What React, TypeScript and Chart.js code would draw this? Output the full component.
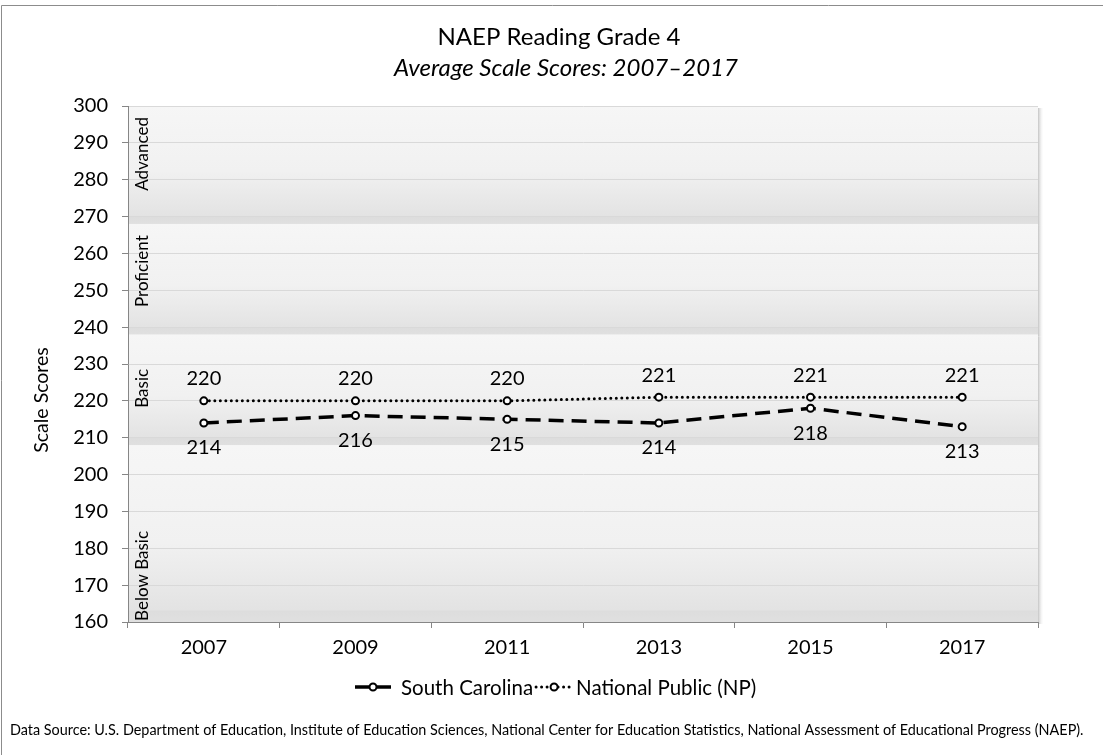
import React, { useEffect, useRef } from 'react';
import { Chart, registerables } from 'chart.js';

Chart.register(...registerables);

const years = ['2007', '2009', '2011', '2013', '2015', '2017'];
const southCarolina = [214, 216, 215, 214, 218, 213];
const nationalPublic = [220, 220, 220, 221, 221, 221];
const yTicks = [160, 170, 180, 190, 200, 210, 220, 230, 240, 250, 260, 270, 280, 290, 300];
const bandNames = ['Below Basic', 'Basic', 'Proficient', 'Advanced'];
const bandCutoffs = [160, 208, 238, 268, 300];
const titleText = 'NAEP Reading Grade 4';
const subtitleText = 'Average Scale Scores: 2007\u20132017';
const yAxisTitle = 'Scale Scores';
const sourceText =
  'Data Source: U.S. Department of Education, Institute of Education Sciences, National Center for Education Statistics, National Assessment of Educational Progress (NAEP).';

const FONT = 'Lato, "Noto Sans", sans-serif';
const bandLabelCenters = [172.5, 223.4, 255.2, 287.0];

const decorPlugin = {
  id: 'decor',
  beforeDraw(chart: any) {
    const { ctx, chartArea, scales } = chart;
    const y = scales.y;
    ctx.save();
    ctx.strokeStyle = '#8c8c8c';
    ctx.lineWidth = 1;
    ctx.beginPath();
    ctx.moveTo(1.5, 760);
    ctx.lineTo(1.5, 5.5);
    ctx.lineTo(1110, 5.5);
    ctx.stroke();
    for (let i = 0; i < bandNames.length; i++) {
      const top = y.getPixelForValue(bandCutoffs[i + 1]);
      const bottom = y.getPixelForValue(bandCutoffs[i]);
      const g = ctx.createLinearGradient(0, top, 0, bottom);
      g.addColorStop(0, '#f6f6f6');
      g.addColorStop(0.55, '#f1f1f1');
      g.addColorStop(0.93, '#e3e3e3');
      g.addColorStop(0.94, '#dddddd');
      g.addColorStop(1, '#e0e0e0');
      ctx.fillStyle = g;
      ctx.fillRect(chartArea.left, top, chartArea.right - chartArea.left, bottom - top);
      const s = ctx.createLinearGradient(chartArea.right, 0, chartArea.right + 6, 0);
      s.addColorStop(0, '#c4c4c4');
      s.addColorStop(1, 'rgba(255,255,255,0)');
      ctx.fillStyle = s;
      ctx.fillRect(chartArea.right, top + 2, 6, bottom - top);
    }
    ctx.restore();
  },
  afterDatasetsDraw(chart: any) {
    const { ctx, chartArea, scales } = chart;
    const x = scales.x;
    const y = scales.y;
    ctx.save();
    ctx.fillStyle = '#000';
    ctx.font = `20px ${FONT}`;
    ctx.textAlign = 'center';
    ctx.textBaseline = 'middle';
    nationalPublic.forEach((v, i) => {
      ctx.fillText(String(v), x.getPixelForValue(i), y.getPixelForValue(v) - 22);
    });
    southCarolina.forEach((v, i) => {
      ctx.fillText(String(v), x.getPixelForValue(i), y.getPixelForValue(v) + 25);
    });
    ctx.font = `17px ${FONT}`;
    bandNames.forEach((name, i) => {
      ctx.save();
      ctx.translate(chartArea.left + 15, y.getPixelForValue(bandLabelCenters[i]));
      ctx.rotate(-Math.PI / 2);
      ctx.fillText(name, 0, 0);
      ctx.restore();
    });
    ctx.restore();
  },
  afterDraw(chart: any) {
    const { ctx } = chart;
    ctx.save();
    ctx.fillStyle = '#000';
    ctx.textAlign = 'center';
    ctx.textBaseline = 'middle';
    ctx.font = `24px ${FONT}`;
    ctx.fillText(titleText, 559, 37);
    ctx.font = `italic 24px ${FONT}`;
    ctx.fillText(subtitleText, 566, 68);
    ctx.save();
    ctx.translate(42, 400);
    ctx.rotate(-Math.PI / 2);
    ctx.font = `19.5px ${FONT}`;
    ctx.fillText(yAxisTitle, 0, 0);
    ctx.restore();
    // legend
    ctx.font = `20.5px ${FONT}`;
    const ly = 687;
    const ds0 = chart.data.datasets[0];
    const ds1 = chart.data.datasets[1];
    const drawSymbol = (ds: any, x0: number, w: number) => {
      ctx.save();
      ctx.strokeStyle = '#000';
      ctx.lineWidth = ds.borderWidth;
      ctx.lineCap = ds.borderCapStyle || 'butt';
      ctx.setLineDash(ds.legendDash);
      ctx.beginPath();
      ctx.moveTo(x0, ly);
      ctx.lineTo(x0 + w, ly);
      ctx.stroke();
      ctx.setLineDash([]);
      ctx.lineWidth = 2;
      ctx.fillStyle = '#fff';
      ctx.beginPath();
      ctx.arc(x0 + w / 2, ly, 3.5, 0, Math.PI * 2);
      ctx.fill();
      ctx.stroke();
      ctx.restore();
    };
    ctx.textAlign = 'left';
    let lx = 355;
    drawSymbol(ds0, lx, 36);
    lx += 36 + 10;
    ctx.fillText(ds0.label, lx, ly + 1);
    lx += ctx.measureText(ds0.label).width + 3;
    drawSymbol(ds1, lx, 36);
    lx += 36 + 4;
    ctx.fillText(ds1.label, lx, ly + 1);
    // footnote
    ctx.font = `14.4px ${FONT}`;
    ctx.fillText(sourceText, 10, 730, 1076);
    ctx.restore();
  },
};

export default function App() {
  const ref = useRef<HTMLCanvasElement | null>(null);
  useEffect(() => {
    const prevMargin = document.body.style.margin;
    document.body.style.margin = '0';
    const canvas = ref.current!;
    const chart = new Chart(canvas, {
      type: 'line',
      data: {
        labels: years,
        datasets: [
          {
            label: 'South Carolina',
            data: southCarolina,
            borderColor: '#000',
            borderWidth: 3.5,
            borderDash: [15, 8],
            legendDash: [36, 0],
            tension: 0,
            pointRadius: 3.5,
            pointBorderWidth: 2,
            pointBackgroundColor: '#fff',
            pointBorderColor: '#000',
          } as any,
          {
            label: 'National Public (NP)',
            data: nationalPublic,
            borderColor: '#000',
            borderWidth: 3,
            borderDash: [0, 5.5],
            borderCapStyle: 'round',
            legendDash: [0, 5.5],
            tension: 0,
            pointRadius: 3.5,
            pointBorderWidth: 2,
            pointBackgroundColor: '#fff',
            pointBorderColor: '#000',
          } as any,
        ],
      },
      options: {
        animation: false,
        responsive: false,
        maintainAspectRatio: false,
        layout: { padding: { top: 106, bottom: 73, left: 0, right: 65 } },
        plugins: {
          legend: { display: false },
          title: { display: false },
          tooltip: { enabled: false },
        },
        scales: {
          x: {
            type: 'category',
            offset: true,
            grid: {
              offset: true,
              drawOnChartArea: false,
              tickLength: 6,
              color: '#868686',
            },
            border: { color: '#868686' },
            ticks: { color: '#000', font: { family: FONT, size: 20 }, padding: 8 },
            afterFit: (s: any) => {
              s.height = 60;
            },
          },
          y: {
            min: 160,
            max: 300,
            afterBuildTicks: (s: any) => {
              s.ticks = yTicks.map((v) => ({ value: v }));
            },
            grid: { color: '#d9d9d9', tickColor: '#868686', tickLength: 6 },
            border: { color: '#868686' },
            ticks: { color: '#000', font: { family: FONT, size: 20 }, padding: 14 },
            afterFit: (s: any) => {
              s.width = 128;
            },
          },
        },
      },
      plugins: [decorPlugin],
    });
    return () => {
      chart.destroy();
      document.body.style.margin = prevMargin;
    };
  }, []);
  return (
    <div style={{ position: 'fixed', left: 0, top: 0, width: 1103, height: 755, background: '#fff' }}>
      <canvas ref={ref} width={1103} height={755} style={{ display: 'block', width: 1103, height: 755 }} />
    </div>
  );
}
